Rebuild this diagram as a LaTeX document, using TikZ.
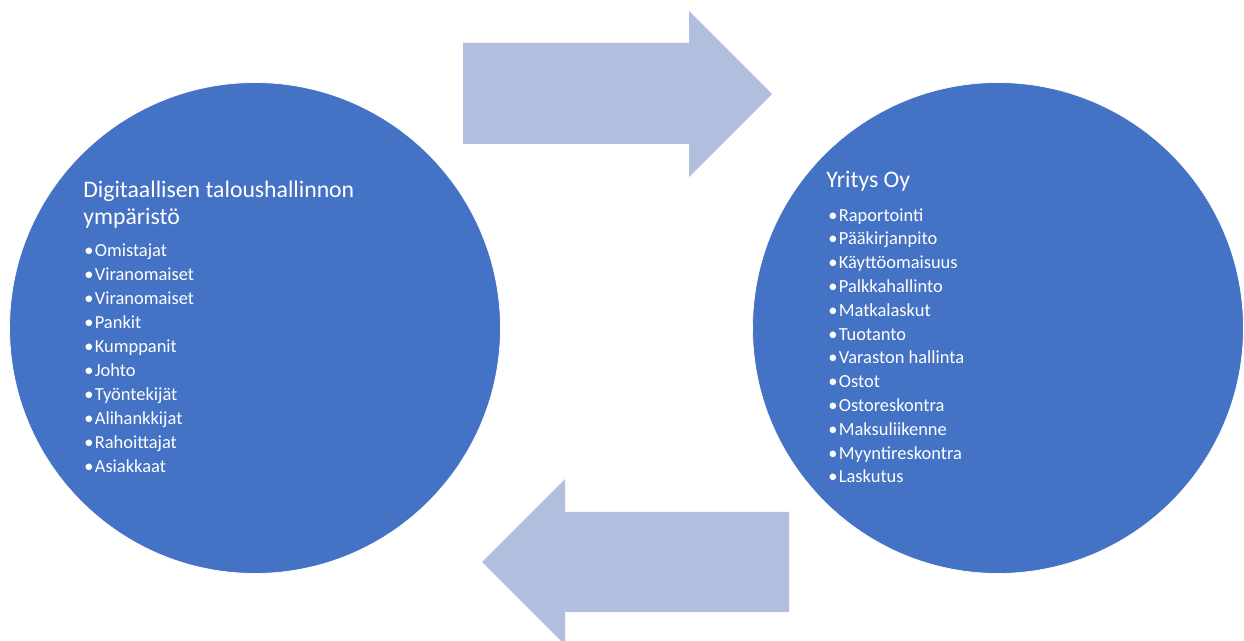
\documentclass[tikz,border=0pt]{standalone}
\usepackage{fontspec}
\setmainfont{Carlito}
\usepackage{tikz}
\usetikzlibrary{positioning}

\definecolor{circblue}{RGB}{68,114,196}
\definecolor{arrowblue}{RGB}{177,190,222}
\newcommand{\bul}{\makebox[0.21cm][l]{\textbullet}}

\begin{document}
\begin{tikzpicture}[
  x=0.02cm, y=-0.02cm,
  bigcirc/.style={circle, fill=circblue, draw=white, line width=0.4pt, minimum size=9.82cm, inner sep=0pt},
  title/.style={anchor=base west, inner sep=0pt, align=left, text=white, font=\fontsize{13.5}{15.4}\selectfont},
  items/.style={anchor=base west, inner sep=0pt, align=left, text=white, font=\fontsize{10.5}{13.66}\selectfont},
  bigarrow/.style={fill=arrowblue}
]
  \useasboundingbox (0,0) rectangle (1244,641);

  \node[bigcirc] (env) at (255,328) {};
  \node[bigcirc] (firm) at (998,328) {};

  % base anchor sits on the last line
  \node[title] (envtitle) at (83,225) {Digitaallisen taloushallinnon\\ympäristö};
  \node[items] (envlist) at (84,473) {\bul Omistajat\\\bul Viranomaiset\\\bul Viranomaiset\\\bul Pankit\\\bul Kumppanit\\\bul Johto\\\bul Työntekijät\\\bul Alihankkijat\\\bul Rahoittajat\\\bul Asiakkaat};

  \node[title] (firmtitle) at (826,188) {Yritys Oy};
  \node[items, font=\fontsize{10.5}{13.55}\selectfont] (firmlist) at (828,483) {\bul Raportointi\\\bul Pääkirjanpito\\\bul Käyttöomaisuus\\\bul Palkkahallinto\\\bul Matkalaskut\\\bul Tuotanto\\\bul Varaston hallinta\\\bul Ostot\\\bul Ostoreskontra\\\bul Maksuliikenne\\\bul Myyntireskontra\\\bul Laskutus};

  % arrows between the circles
  \fill[bigarrow] (463,43) -- (689,43) -- (689,11) -- (772,94) -- (689,177) -- (689,144) -- (463,144) -- cycle;
  \fill[bigarrow] (789,512) -- (565,512) -- (565,479) -- (482,562) -- (565,645) -- (565,612) -- (789,612) -- cycle;
\end{tikzpicture}
\end{document}
